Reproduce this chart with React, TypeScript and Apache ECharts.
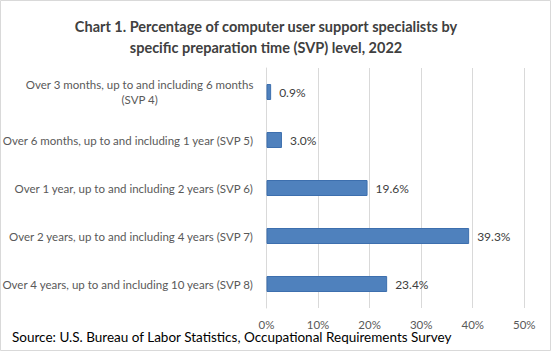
import React, { useEffect, useRef } from "react";
import * as echarts from "echarts";

const categories = [
  "Over 3 months, up to and including 6 months\n(SVP 4)",
  "Over 6 months, up to and including 1 year (SVP 5)",
  "Over 1 year, up to and including 2 years (SVP 6)",
  "Over 2 years, up to and including 4 years (SVP 7)",
  "Over 4 years, up to and including 10 years (SVP 8)",
];
const values = [0.9, 3.0, 19.6, 39.3, 23.4];
const xTicks = [0, 10, 20, 30, 40, 50];

const FONT = "Lato, 'Noto Sans', sans-serif";

export default function App() {
  const ref = useRef<HTMLDivElement>(null);
  useEffect(() => {
    if (!ref.current) return;
    const chart = echarts.init(ref.current, null, { renderer: "svg" });
    chart.setOption({
      animation: false,
      backgroundColor: "#ffffff",
      title: {
        text: "Chart 1. Percentage of computer user support specialists by\nspecific preparation time (SVP) level, 2022",
        left: 261,
        top: 11,
        textAlign: "center",
        textStyle: {
          fontFamily: FONT,
          fontSize: 14.5,
          fontWeight: "bold",
          color: "#404040",
          lineHeight: 21,
        },
      },
      graphic: [
        {
          type: "rect",
          shape: { x: 0.5, y: 0.5, width: 550, height: 350 },
          style: { fill: "none", stroke: "#d9d9d9", lineWidth: 1 },
          silent: true,
        },
        {
          type: "text",
          left: 12,
          top: 330,
          style: {
            text: "Source: U.S. Bureau of Labor Statistics, Occupational Requirements Survey",
            fontFamily: FONT,
            fontSize: 13.5,
            fill: "#000000",
          },
        },
      ],
      grid: {
        left: 266.5,
        right: 26.7,
        top: 68,
        bottom: 43,
        containLabel: false,
        outerBoundsMode: "none",
      },
      xAxis: {
        type: "value",
        min: xTicks[0],
        max: xTicks[xTicks.length - 1],
        interval: 10,
        axisLine: { show: false },
        axisTick: { show: false },
        splitLine: { lineStyle: { color: "#d9d9d9", width: 1 } },
        axisLabel: {
          formatter: (v: number) => v + "%",
          fontFamily: FONT,
          fontSize: 11.5,
          color: "#595959",
          margin: 10,
        },
      },
      yAxis: {
        type: "category",
        inverse: true,
        data: categories,
        axisLine: { show: true, lineStyle: { color: "#d9d9d9" } },
        axisTick: { show: false },
        axisLabel: {
          margin: 13,
          fontFamily: FONT,
          fontSize: 11.5,
          color: "#595959",
          formatter: (v: string) =>
            v
              .split("\n")
              .map((l) => "{c|" + l + "}")
              .join("\n"),
          rich: {
            c: {
              align: "center",
              fontFamily: FONT,
              fontSize: 11.5,
              color: "#595959",
              lineHeight: 15,
            },
          },
        },
      },
      series: [
        {
          type: "bar",
          data: values,
          barWidth: 16,
          itemStyle: {
            color: "#4f81bd",
            borderColor: "#3d6fae",
            borderWidth: 1,
          },
          label: {
            show: true,
            position: "right",
            distance: 8,
            formatter: (p: any) => p.value.toFixed(1) + "%",
            fontFamily: FONT,
            fontSize: 12,
            color: "#404040",
          },
        },
      ],
    });
    return () => chart.dispose();
  }, []);
  return (
    <div
      ref={ref}
      style={{ position: "absolute", left: 0, top: 0, width: 551, height: 351 }}
    />
  );
}
